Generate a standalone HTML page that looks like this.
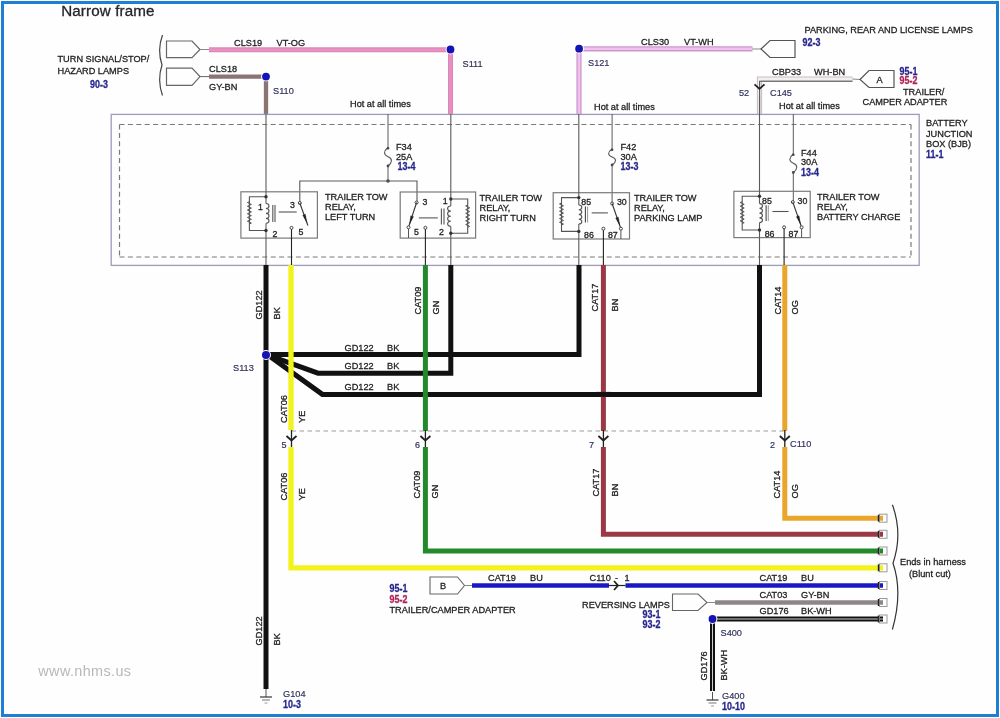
<!DOCTYPE html>
<html><head><meta charset="utf-8"><style>
html,body{margin:0;padding:0;background:#fff;}
svg{display:block;filter:blur(0.35px);}
text{font-family:"Liberation Sans", sans-serif;}
text.s{}
</style></head><body>
<svg width="1000" height="718" viewBox="0 0 1000 718">
<rect x="0" y="0" width="1000" height="718" fill="#fefefe"/>
<rect x="2.5" y="2.5" width="995" height="713" fill="none" stroke="#1f7fd2" stroke-width="3"/>
<text x="61.2" y="15.6" font-size="15.2" fill="#262626" font-weight="normal" text-anchor="start" letter-spacing="0.12" stroke="#262626" stroke-width="0.3">Narrow frame</text>
<text x="0" y="0" font-size="9.8" fill="#1e1e1e" font-weight="normal" text-anchor="start" transform="translate(57.5 62.4) scale(0.9388 1)"  stroke="#1e1e1e" stroke-width="0.3">TURN SIGNAL/STOP/</text>
<text x="0" y="0" font-size="9.8" fill="#1e1e1e" font-weight="normal" text-anchor="start" transform="translate(57.5 74.4) scale(0.9388 1)"  stroke="#1e1e1e" stroke-width="0.3">HAZARD LAMPS</text>
<text x="0" y="0" font-size="10.4" fill="#26268e" font-weight="bold" text-anchor="start" transform="translate(90 88.3) scale(0.86 1)"  stroke="#26268e" stroke-width="0.3">90-3</text>
<path d="M162.5,35 Q157,50 162,65 Q157,80 162.5,95.5" stroke="#444" stroke-width="1.2" fill="none" />
<path d="M166.5,41 H192 L200,49.5 L192,57.6 H166.5 Z" stroke="#666" stroke-width="1.2" fill="none" />
<path d="M166.5,68.1 H192 L200,76.6 L192,85.3 H166.5 Z" stroke="#666" stroke-width="1.2" fill="none" />
<line x1="200" y1="49.5" x2="209" y2="49.5" stroke="#888" stroke-width="1" />
<line x1="200" y1="76.6" x2="209" y2="76.6" stroke="#666" stroke-width="1" />
<path d="M209,49.7 H450.5 V114" stroke="#dc88b4" stroke-width="5" fill="none" />
<path d="M209,49.7 H450.5 V114" stroke="#ea90c4" stroke-width="2.6" fill="none" />
<circle cx="450.5" cy="49.5" r="4.9" fill="#fff"/>
<circle cx="450.5" cy="49.5" r="3.9" fill="#1414b4"/>
<path d="M209,76.6 H266 V114" stroke="#8c7474" stroke-width="4.3" fill="none" />
<circle cx="266" cy="76.6" r="4.9" fill="#fff"/>
<circle cx="266" cy="76.6" r="3.9" fill="#1414b4"/>
<text x="0" y="0" font-size="9.8" fill="#1e1e1e" font-weight="normal" text-anchor="start" transform="translate(234 46) scale(0.9388 1)"  stroke="#1e1e1e" stroke-width="0.3">CLS19</text>
<text x="0" y="0" font-size="9.8" fill="#1e1e1e" font-weight="normal" text-anchor="start" transform="translate(276.5 46) scale(0.9388 1)"  stroke="#1e1e1e" stroke-width="0.3">VT-OG</text>
<text x="0" y="0" font-size="9.8" fill="#1e1e1e" font-weight="normal" text-anchor="start" transform="translate(209 72.4) scale(0.9388 1)"  stroke="#1e1e1e" stroke-width="0.3">CLS18</text>
<text x="0" y="0" font-size="9.8" fill="#1e1e1e" font-weight="normal" text-anchor="start" transform="translate(209 90) scale(0.9388 1)"  stroke="#1e1e1e" stroke-width="0.3">GY-BN</text>
<text x="0" y="0" font-size="9.8" fill="#30305e" font-weight="normal" text-anchor="start" transform="translate(273 94) scale(0.9388 1)"  stroke="#30305e" stroke-width="0.18">S110</text>
<text x="0" y="0" font-size="9.8" fill="#30305e" font-weight="normal" text-anchor="start" transform="translate(462.5 67) scale(0.9388 1)"  stroke="#30305e" stroke-width="0.18">S111</text>
<text x="0" y="0" font-size="9.8" fill="#1e1e1e" font-weight="normal" text-anchor="start" transform="translate(804.5 33) scale(0.9388 1)"  stroke="#1e1e1e" stroke-width="0.3">PARKING, REAR AND LICENSE LAMPS</text>
<text x="0" y="0" font-size="10.4" fill="#26268e" font-weight="bold" text-anchor="start" transform="translate(802.5 46) scale(0.86 1)"  stroke="#26268e" stroke-width="0.3">92-3</text>
<path d="M579,114 V48.8 H752.5" stroke="#cc98cc" stroke-width="5.2" fill="none" />
<path d="M579,114 V48.8 H752.5" stroke="#f0c0ee" stroke-width="2.6" fill="none" />
<circle cx="579.1" cy="48.7" r="4.9" fill="#fff"/>
<circle cx="579.1" cy="48.7" r="3.9" fill="#1414b4"/>
<line x1="752.5" y1="49" x2="761" y2="49" stroke="#888" stroke-width="1" />
<path d="M761,49 L770,40.5 H795 V57.5 H770 Z" stroke="#555" stroke-width="1.2" fill="none" />
<text x="0" y="0" font-size="9.8" fill="#1e1e1e" font-weight="normal" text-anchor="start" transform="translate(641 45) scale(0.9388 1)"  stroke="#1e1e1e" stroke-width="0.3">CLS30</text>
<text x="0" y="0" font-size="9.8" fill="#1e1e1e" font-weight="normal" text-anchor="start" transform="translate(684 45) scale(0.9388 1)"  stroke="#1e1e1e" stroke-width="0.3">VT-WH</text>
<text x="0" y="0" font-size="9.8" fill="#30305e" font-weight="normal" text-anchor="start" transform="translate(588 66) scale(0.9388 1)"  stroke="#30305e" stroke-width="0.18">S121</text>
<path d="M852.5,79 H759.5 V114" stroke="#c4bcbc" stroke-width="5.2" fill="none" />
<path d="M852.5,79 H759.5 V114" stroke="#f4efef" stroke-width="3.2" fill="none" />
<path d="M852.5,81.3 H759.6 V114" stroke="#555" stroke-width="1.1" fill="none" />
<line x1="852.5" y1="79" x2="860" y2="79.5" stroke="#888" stroke-width="1" />
<path d="M860,79.5 L869,70.5 H894 V87.5 H869 Z" stroke="#555" stroke-width="1.2" fill="none" />
<text x="0" y="0" font-size="9.8" fill="#1e1e1e" font-weight="normal" text-anchor="middle" transform="translate(879.5 83) scale(0.9388 1)"  stroke="#1e1e1e" stroke-width="0.3">A</text>
<text x="0" y="0" font-size="9.8" fill="#1e1e1e" font-weight="normal" text-anchor="start" transform="translate(772 75) scale(0.9388 1)"  stroke="#1e1e1e" stroke-width="0.3">CBP33</text>
<text x="0" y="0" font-size="9.8" fill="#1e1e1e" font-weight="normal" text-anchor="start" transform="translate(814 75) scale(0.9388 1)"  stroke="#1e1e1e" stroke-width="0.3">WH-BN</text>
<text x="0" y="0" font-size="10.4" fill="#26268e" font-weight="bold" text-anchor="start" transform="translate(899.5 74.5) scale(0.86 1)"  stroke="#26268e" stroke-width="0.3">95-1</text>
<text x="0" y="0" font-size="10.4" fill="#b02458" font-weight="bold" text-anchor="start" transform="translate(899.5 84) scale(0.86 1)"  stroke="#b02458" stroke-width="0.3">95-2</text>
<text x="0" y="0" font-size="9.8" fill="#1e1e1e" font-weight="normal" text-anchor="start" transform="translate(903 94.5) scale(0.9388 1)"  stroke="#1e1e1e" stroke-width="0.3">TRAILER/</text>
<text x="0" y="0" font-size="9.8" fill="#1e1e1e" font-weight="normal" text-anchor="start" transform="translate(862.5 104.5) scale(0.9388 1)"  stroke="#1e1e1e" stroke-width="0.3">CAMPER ADAPTER</text>
<path d="M754.5,84.3 L759.5,88.8 L764.5,84.3" stroke="#222" stroke-width="1.8" fill="none" />
<text x="0" y="0" font-size="9.8" fill="#30305e" font-weight="normal" text-anchor="start" transform="translate(739 96) scale(0.9388 1)"  stroke="#30305e" stroke-width="0.18">52</text>
<text x="0" y="0" font-size="9.8" fill="#30305e" font-weight="normal" text-anchor="start" transform="translate(770 96) scale(0.9388 1)"  stroke="#30305e" stroke-width="0.18">C145</text>
<rect x="111.2" y="114.4" width="808" height="151" fill="none" stroke="#9c9cbc" stroke-width="1.3"/>
<line x1="119.5" y1="124.5" x2="911" y2="124.5" stroke="#7a7a7a" stroke-width="1.2" stroke-dasharray="5,3.4"/>
<line x1="119.5" y1="124.5" x2="119.5" y2="257" stroke="#7a7a7a" stroke-width="1.2" stroke-dasharray="5,3.4"/>
<line x1="119.5" y1="257" x2="911" y2="257" stroke="#7a7a7a" stroke-width="1.2" stroke-dasharray="5,3.4"/>
<line x1="911" y1="124.5" x2="911" y2="257" stroke="#7a7a7a" stroke-width="1.2" stroke-dasharray="5,3.4"/>
<text x="0" y="0" font-size="9.8" fill="#1e1e1e" font-weight="normal" text-anchor="start" transform="translate(926 126) scale(0.9388 1)"  stroke="#1e1e1e" stroke-width="0.3">BATTERY</text>
<text x="0" y="0" font-size="9.8" fill="#1e1e1e" font-weight="normal" text-anchor="start" transform="translate(926 136.5) scale(0.9388 1)"  stroke="#1e1e1e" stroke-width="0.3">JUNCTION</text>
<text x="0" y="0" font-size="9.8" fill="#1e1e1e" font-weight="normal" text-anchor="start" transform="translate(926 147) scale(0.9388 1)"  stroke="#1e1e1e" stroke-width="0.3">BOX (BJB)</text>
<text x="0" y="0" font-size="10.4" fill="#26268e" font-weight="bold" text-anchor="start" transform="translate(926 157.5) scale(0.86 1)"  stroke="#26268e" stroke-width="0.3">11-1</text>
<text x="0" y="0" font-size="9.8" fill="#1e1e1e" font-weight="normal" text-anchor="start" transform="translate(350 106.8) scale(0.9388 1)"  stroke="#1e1e1e" stroke-width="0.3">Hot at all times</text>
<line x1="388" y1="114" x2="388" y2="147.5" stroke="#5a5a5a" stroke-width="1" />
<path d="M388,147.5 C383.4,151.2 383.4,154.9 388,156.75 C392.6,158.6 392.6,162.3 388,166" stroke="#5a5a5a" stroke-width="1.1" fill="none" />
<circle cx="388" cy="166" r="1.4" fill="#444"/>
<circle cx="388" cy="148.3" r="1.3" fill="#444"/>
<line x1="388" y1="166" x2="388" y2="181" stroke="#5a5a5a" stroke-width="1" />
<circle cx="388" cy="181" r="1.8" fill="#444"/>
<path d="M299.8,203 V181 H417 V202.5" stroke="#5a5a5a" stroke-width="1.1" fill="none" />
<text x="0" y="0" font-size="9.8" fill="#1e1e1e" font-weight="normal" text-anchor="start" transform="translate(396 149.5) scale(0.9388 1)"  stroke="#1e1e1e" stroke-width="0.3">F34</text>
<text x="0" y="0" font-size="9.8" fill="#1e1e1e" font-weight="normal" text-anchor="start" transform="translate(396 159.5) scale(0.9388 1)"  stroke="#1e1e1e" stroke-width="0.3">25A</text>
<text x="0" y="0" font-size="10.4" fill="#26268e" font-weight="bold" text-anchor="start" transform="translate(397.5 169.6) scale(0.86 1)"  stroke="#26268e" stroke-width="0.3">13-4</text>
<text x="0" y="0" font-size="9.8" fill="#1e1e1e" font-weight="normal" text-anchor="start" transform="translate(594 110) scale(0.9388 1)"  stroke="#1e1e1e" stroke-width="0.3">Hot at all times</text>
<line x1="612.1" y1="114" x2="612.1" y2="149" stroke="#5a5a5a" stroke-width="1" />
<path d="M612.1,149 C607.5,152.2 607.5,155.4 612.1,157.0 C616.7,158.6 616.7,161.8 612.1,165" stroke="#5a5a5a" stroke-width="1.1" fill="none" />
<circle cx="612.1" cy="165" r="1.4" fill="#444"/>
<circle cx="612.1" cy="149.8" r="1.3" fill="#444"/>
<line x1="612.1" y1="165" x2="612.1" y2="203.5" stroke="#5a5a5a" stroke-width="1" />
<text x="0" y="0" font-size="9.8" fill="#1e1e1e" font-weight="normal" text-anchor="start" transform="translate(620.5 149.5) scale(0.9388 1)"  stroke="#1e1e1e" stroke-width="0.3">F42</text>
<text x="0" y="0" font-size="9.8" fill="#1e1e1e" font-weight="normal" text-anchor="start" transform="translate(620.5 159.5) scale(0.9388 1)"  stroke="#1e1e1e" stroke-width="0.3">30A</text>
<text x="0" y="0" font-size="10.4" fill="#26268e" font-weight="bold" text-anchor="start" transform="translate(620.5 169.5) scale(0.86 1)"  stroke="#26268e" stroke-width="0.3">13-3</text>
<text x="0" y="0" font-size="9.8" fill="#1e1e1e" font-weight="normal" text-anchor="start" transform="translate(779 109) scale(0.9388 1)"  stroke="#1e1e1e" stroke-width="0.3">Hot at all times</text>
<line x1="793.3" y1="114" x2="793.3" y2="154" stroke="#5a5a5a" stroke-width="1" />
<path d="M793.3,154 C788.6999999999999,157.7 788.6999999999999,161.4 793.3,163.25 C797.9,165.1 797.9,168.8 793.3,172.5" stroke="#5a5a5a" stroke-width="1.1" fill="none" />
<circle cx="793.3" cy="172.5" r="1.4" fill="#444"/>
<circle cx="793.3" cy="154.8" r="1.3" fill="#444"/>
<line x1="793.3" y1="172.5" x2="793.3" y2="202" stroke="#5a5a5a" stroke-width="1" />
<text x="0" y="0" font-size="9.8" fill="#1e1e1e" font-weight="normal" text-anchor="start" transform="translate(801 155.5) scale(0.9388 1)"  stroke="#1e1e1e" stroke-width="0.3">F44</text>
<text x="0" y="0" font-size="9.8" fill="#1e1e1e" font-weight="normal" text-anchor="start" transform="translate(801 165) scale(0.9388 1)"  stroke="#1e1e1e" stroke-width="0.3">30A</text>
<text x="0" y="0" font-size="10.4" fill="#26268e" font-weight="bold" text-anchor="start" transform="translate(801 175.5) scale(0.86 1)"  stroke="#26268e" stroke-width="0.3">13-4</text>
<rect x="240.9" y="191.8" width="76.5" height="46.3" fill="none" stroke="#7a7a7a" stroke-width="1.2"/>
<line x1="266" y1="114" x2="266" y2="203.5" stroke="#5a5a5a" stroke-width="1.1" />
<line x1="266" y1="223.3" x2="266" y2="265" stroke="#5a5a5a" stroke-width="1.1" />
<path d="M266,196.7 H249.4 V230.5 H266" stroke="#555" stroke-width="1.1" fill="none" />
<path d="M249.4,201.6 L247.40,202.53 L251.40,204.40 L247.40,206.27 L251.40,208.13 L247.40,210.00 L251.40,211.87 L247.40,213.73 L251.40,215.60 L247.40,217.47 L251.40,219.33 L247.40,221.20 L251.40,223.07 L249.4,224" stroke="#555" stroke-width="1.0" fill="none" stroke-linejoin="round"/>
<path d="M266,203.5 A3.2,2.48 0 0 1 266,208.45 A3.2,2.48 0 0 1 266,213.40 A3.2,2.48 0 0 1 266,218.35 A3.2,2.48 0 0 1 266,223.30" stroke="#555" stroke-width="1.1" fill="none" />
<line x1="266" y1="196.7" x2="266" y2="203.5" stroke="#fff" stroke-width="0" />
<circle cx="266" cy="196.7" r="1.7" fill="#333"/>
<circle cx="266" cy="230.5" r="1.7" fill="#333"/>
<line x1="272.8" y1="205" x2="272.8" y2="222" stroke="#555" stroke-width="1.1" />
<line x1="275" y1="205" x2="275" y2="222" stroke="#555" stroke-width="1.1" />
<line x1="278.7" y1="212" x2="296.7" y2="212" stroke="#555" stroke-width="1.1" />
<circle cx="299.8" cy="203" r="1.5" fill="#fff" stroke="#444" stroke-width="1"/>
<line x1="299.8" y1="203" x2="307.9" y2="225.5" stroke="#333" stroke-width="1.1" />
<path d="M306.77,222.35 L302.74,215.30 L305.37,214.35 Z" fill="#222" stroke="#222" stroke-width="0.4"/>
<circle cx="291.5" cy="227.8" r="1.5" fill="#fff" stroke="#444" stroke-width="1"/>
<line x1="291.5" y1="229.3" x2="291.5" y2="265" stroke="#222" stroke-width="1.1" />
<text x="258" y="209.8" font-size="8.8" fill="#1e1e1e" font-weight="normal" text-anchor="start"  stroke="#1e1e1e" stroke-width="0.3">1</text>
<text x="272.4" y="237.2" font-size="8.8" fill="#1e1e1e" font-weight="normal" text-anchor="start"  stroke="#1e1e1e" stroke-width="0.3">2</text>
<text x="290" y="207.5" font-size="8.8" fill="#1e1e1e" font-weight="normal" text-anchor="start"  stroke="#1e1e1e" stroke-width="0.3">3</text>
<text x="298.5" y="235.4" font-size="8.8" fill="#1e1e1e" font-weight="normal" text-anchor="start"  stroke="#1e1e1e" stroke-width="0.3">5</text>
<text x="0" y="0" font-size="9.8" fill="#1e1e1e" font-weight="normal" text-anchor="start" transform="translate(325 200) scale(0.9388 1)"  stroke="#1e1e1e" stroke-width="0.3">TRAILER TOW</text>
<text x="0" y="0" font-size="9.8" fill="#1e1e1e" font-weight="normal" text-anchor="start" transform="translate(325 210) scale(0.9388 1)"  stroke="#1e1e1e" stroke-width="0.3">RELAY,</text>
<text x="0" y="0" font-size="9.8" fill="#1e1e1e" font-weight="normal" text-anchor="start" transform="translate(325 220) scale(0.9388 1)"  stroke="#1e1e1e" stroke-width="0.3">LEFT TURN</text>
<rect x="400.2" y="192" width="75.4" height="46.1" fill="none" stroke="#7a7a7a" stroke-width="1.2"/>
<line x1="450.8" y1="114" x2="450.8" y2="206" stroke="#5a5a5a" stroke-width="1.1" />
<line x1="450.8" y1="226.4" x2="450.8" y2="265" stroke="#5a5a5a" stroke-width="1.1" />
<path d="M450.8,199 H467.7 V233.2 H450.8" stroke="#555" stroke-width="1.1" fill="none" />
<path d="M467.7,205 L465.70,205.93 L469.70,207.79 L465.70,209.65 L469.70,211.50 L465.70,213.36 L469.70,215.22 L465.70,217.08 L469.70,218.94 L465.70,220.80 L469.70,222.65 L465.70,224.51 L469.70,226.37 L467.7,227.3" stroke="#555" stroke-width="1.0" fill="none" stroke-linejoin="round"/>
<path d="M450.8,206 A3.2,2.55 0 0 0 450.8,211.10 A3.2,2.55 0 0 0 450.8,216.20 A3.2,2.55 0 0 0 450.8,221.30 A3.2,2.55 0 0 0 450.8,226.40" stroke="#555" stroke-width="1.1" fill="none" />
<circle cx="450.8" cy="199" r="1.7" fill="#333"/>
<circle cx="450.8" cy="233.2" r="1.7" fill="#333"/>
<line x1="441.4" y1="208.4" x2="441.4" y2="224.6" stroke="#555" stroke-width="1.1" />
<line x1="444" y1="208.4" x2="444" y2="224.6" stroke="#555" stroke-width="1.1" />
<line x1="418.9" y1="217.9" x2="437.8" y2="217.9" stroke="#555" stroke-width="1.1" />
<circle cx="416.6" cy="202.5" r="1.5" fill="#fff" stroke="#444" stroke-width="1"/>
<line x1="416.6" y1="202.5" x2="408.5" y2="227.3" stroke="#333" stroke-width="1.1" />
<path d="M409.63,223.83 L410.79,215.79 L413.45,216.66 Z" fill="#222" stroke="#222" stroke-width="0.4"/>
<circle cx="408.5" cy="227.3" r="1.5" fill="#fff" stroke="#444" stroke-width="1"/>
<line x1="408.5" y1="228.8" x2="408.5" y2="238" stroke="#555" stroke-width="1" />
<circle cx="425.4" cy="227.8" r="1.5" fill="#fff" stroke="#444" stroke-width="1"/>
<line x1="425.4" y1="229.3" x2="425.4" y2="265" stroke="#222" stroke-width="1.1" />
<text x="442.7" y="203.5" font-size="8.8" fill="#1e1e1e" font-weight="normal" text-anchor="start"  stroke="#1e1e1e" stroke-width="0.3">1</text>
<text x="439.1" y="235.4" font-size="8.8" fill="#1e1e1e" font-weight="normal" text-anchor="start"  stroke="#1e1e1e" stroke-width="0.3">2</text>
<text x="422.5" y="205.3" font-size="8.8" fill="#1e1e1e" font-weight="normal" text-anchor="start"  stroke="#1e1e1e" stroke-width="0.3">3</text>
<text x="413.9" y="235.4" font-size="8.8" fill="#1e1e1e" font-weight="normal" text-anchor="start"  stroke="#1e1e1e" stroke-width="0.3">5</text>
<text x="0" y="0" font-size="9.8" fill="#1e1e1e" font-weight="normal" text-anchor="start" transform="translate(479.5 200.5) scale(0.9388 1)"  stroke="#1e1e1e" stroke-width="0.3">TRAILER TOW</text>
<text x="0" y="0" font-size="9.8" fill="#1e1e1e" font-weight="normal" text-anchor="start" transform="translate(479.5 210.5) scale(0.9388 1)"  stroke="#1e1e1e" stroke-width="0.3">RELAY,</text>
<text x="0" y="0" font-size="9.8" fill="#1e1e1e" font-weight="normal" text-anchor="start" transform="translate(479.5 220.5) scale(0.9388 1)"  stroke="#1e1e1e" stroke-width="0.3">RIGHT TURN</text>
<rect x="553.2" y="192.7" width="76.3" height="46.3" fill="none" stroke="#7a7a7a" stroke-width="1.2"/>
<line x1="578.8" y1="114" x2="578.8" y2="205" stroke="#5a5a5a" stroke-width="1.1" />
<line x1="578.8" y1="224" x2="578.8" y2="265" stroke="#5a5a5a" stroke-width="1.1" />
<path d="M578.8,197.6 H561.5 V231.4 H578.8" stroke="#555" stroke-width="1.1" fill="none" />
<path d="M561.5,203 L559.50,203.92 L563.50,205.75 L559.50,207.58 L563.50,209.42 L559.50,211.25 L563.50,213.08 L559.50,214.92 L563.50,216.75 L559.50,218.58 L563.50,220.42 L559.50,222.25 L563.50,224.08 L561.5,225" stroke="#555" stroke-width="1.0" fill="none" stroke-linejoin="round"/>
<path d="M578.8,205 A3.2,2.38 0 0 1 578.8,209.75 A3.2,2.38 0 0 1 578.8,214.50 A3.2,2.38 0 0 1 578.8,219.25 A3.2,2.38 0 0 1 578.8,224.00" stroke="#555" stroke-width="1.1" fill="none" />
<circle cx="578.8" cy="197.6" r="1.7" fill="#333"/>
<circle cx="578.8" cy="231.4" r="1.7" fill="#333"/>
<line x1="585.4" y1="206.6" x2="585.4" y2="222.4" stroke="#444" stroke-width="1.1" />
<line x1="587.6" y1="206.6" x2="587.6" y2="222.4" stroke="#999" stroke-width="1.0" />
<line x1="591.7" y1="212.9" x2="607.9" y2="212.9" stroke="#555" stroke-width="1.1" />
<circle cx="612.1" cy="203.5" r="1.5" fill="#fff" stroke="#444" stroke-width="1"/>
<line x1="612.1" y1="203.5" x2="620.9" y2="228.7" stroke="#333" stroke-width="1.1" />
<path d="M619.67,225.17 L615.71,218.08 L618.35,217.16 Z" fill="#222" stroke="#222" stroke-width="0.4"/>
<circle cx="620.9" cy="228.7" r="1.5" fill="#fff" stroke="#444" stroke-width="1"/>
<line x1="620.9" y1="230.2" x2="620.9" y2="239" stroke="#555" stroke-width="1" />
<circle cx="603.4" cy="228.7" r="1.5" fill="#fff" stroke="#444" stroke-width="1"/>
<line x1="603.4" y1="230.2" x2="603.4" y2="265" stroke="#222" stroke-width="1.1" />
<text x="581.3" y="205.3" font-size="8.8" fill="#1e1e1e" font-weight="normal" text-anchor="start"  stroke="#1e1e1e" stroke-width="0.3">85</text>
<text x="616.9" y="205.3" font-size="8.8" fill="#1e1e1e" font-weight="normal" text-anchor="start"  stroke="#1e1e1e" stroke-width="0.3">30</text>
<text x="584" y="238.4" font-size="8.8" fill="#1e1e1e" font-weight="normal" text-anchor="start"  stroke="#1e1e1e" stroke-width="0.3">86</text>
<text x="607.9" y="238.4" font-size="8.8" fill="#1e1e1e" font-weight="normal" text-anchor="start"  stroke="#1e1e1e" stroke-width="0.3">87</text>
<text x="0" y="0" font-size="9.8" fill="#1e1e1e" font-weight="normal" text-anchor="start" transform="translate(634 201) scale(0.9388 1)"  stroke="#1e1e1e" stroke-width="0.3">TRAILER TOW</text>
<text x="0" y="0" font-size="9.8" fill="#1e1e1e" font-weight="normal" text-anchor="start" transform="translate(634 211) scale(0.9388 1)"  stroke="#1e1e1e" stroke-width="0.3">RELAY,</text>
<text x="0" y="0" font-size="9.8" fill="#1e1e1e" font-weight="normal" text-anchor="start" transform="translate(634 221) scale(0.9388 1)"  stroke="#1e1e1e" stroke-width="0.3">PARKING LAMP</text>
<rect x="733.9000000000001" y="191.29999999999998" width="76.3" height="46.3" fill="none" stroke="#7a7a7a" stroke-width="1.2"/>
<line x1="759.5" y1="97" x2="759.5" y2="203.6" stroke="#5a5a5a" stroke-width="1.1" />
<line x1="759.5" y1="222.6" x2="759.5" y2="265" stroke="#5a5a5a" stroke-width="1.1" />
<path d="M759.5,196.2 H742.2 V230.0 H759.5" stroke="#555" stroke-width="1.1" fill="none" />
<path d="M742.2,201.6 L740.20,202.52 L744.20,204.35 L740.20,206.18 L744.20,208.02 L740.20,209.85 L744.20,211.68 L740.20,213.52 L744.20,215.35 L740.20,217.18 L744.20,219.02 L740.20,220.85 L744.20,222.68 L742.2,223.6" stroke="#555" stroke-width="1.0" fill="none" stroke-linejoin="round"/>
<path d="M759.5,203.6 A3.2,2.38 0 0 1 759.5,208.35 A3.2,2.38 0 0 1 759.5,213.10 A3.2,2.38 0 0 1 759.5,217.85 A3.2,2.38 0 0 1 759.5,222.60" stroke="#555" stroke-width="1.1" fill="none" />
<circle cx="759.5" cy="196.2" r="1.7" fill="#333"/>
<circle cx="759.5" cy="230.0" r="1.7" fill="#333"/>
<line x1="766.0999999999999" y1="205.2" x2="766.0999999999999" y2="221.0" stroke="#444" stroke-width="1.1" />
<line x1="768.3" y1="205.2" x2="768.3" y2="221.0" stroke="#999" stroke-width="1.0" />
<line x1="772.4000000000001" y1="211.5" x2="788.5999999999999" y2="211.5" stroke="#555" stroke-width="1.1" />
<circle cx="792.8" cy="202.1" r="1.5" fill="#fff" stroke="#444" stroke-width="1"/>
<line x1="792.8" y1="202.1" x2="801.5999999999999" y2="227.29999999999998" stroke="#333" stroke-width="1.1" />
<path d="M800.37,223.77 L796.41,216.68 L799.05,215.76 Z" fill="#222" stroke="#222" stroke-width="0.4"/>
<circle cx="801.5999999999999" cy="227.29999999999998" r="1.5" fill="#fff" stroke="#444" stroke-width="1"/>
<line x1="801.5999999999999" y1="228.79999999999998" x2="801.5999999999999" y2="237.6" stroke="#555" stroke-width="1" />
<circle cx="784.0999999999999" cy="227.29999999999998" r="1.5" fill="#fff" stroke="#444" stroke-width="1"/>
<line x1="784.0999999999999" y1="228.79999999999998" x2="784.0999999999999" y2="265" stroke="#222" stroke-width="1.1" />
<text x="762.0" y="203.9" font-size="8.8" fill="#1e1e1e" font-weight="normal" text-anchor="start"  stroke="#1e1e1e" stroke-width="0.3">85</text>
<text x="797.5999999999999" y="203.9" font-size="8.8" fill="#1e1e1e" font-weight="normal" text-anchor="start"  stroke="#1e1e1e" stroke-width="0.3">30</text>
<text x="764.7" y="237.0" font-size="8.8" fill="#1e1e1e" font-weight="normal" text-anchor="start"  stroke="#1e1e1e" stroke-width="0.3">86</text>
<text x="788.5999999999999" y="237.0" font-size="8.8" fill="#1e1e1e" font-weight="normal" text-anchor="start"  stroke="#1e1e1e" stroke-width="0.3">87</text>
<text x="0" y="0" font-size="9.8" fill="#1e1e1e" font-weight="normal" text-anchor="start" transform="translate(817 199.6) scale(0.9388 1)"  stroke="#1e1e1e" stroke-width="0.3">TRAILER TOW</text>
<text x="0" y="0" font-size="9.8" fill="#1e1e1e" font-weight="normal" text-anchor="start" transform="translate(817 209.6) scale(0.9388 1)"  stroke="#1e1e1e" stroke-width="0.3">RELAY,</text>
<text x="0" y="0" font-size="9.8" fill="#1e1e1e" font-weight="normal" text-anchor="start" transform="translate(817 219.6) scale(0.9388 1)"  stroke="#1e1e1e" stroke-width="0.3">BATTERY CHARGE</text>
<line x1="266" y1="265" x2="266" y2="689" stroke="#111111" stroke-width="5" />
<path d="M579,265 V354.5 H266" stroke="#111111" stroke-width="5" fill="none" />
<path d="M450.8,265 V373.2 H318 L270,355.8" stroke="#111111" stroke-width="5" fill="none" />
<path d="M759.5,265 V394.4 H322.4 L270,356.5" stroke="#111111" stroke-width="5" fill="none" />
<circle cx="266" cy="355" r="5.0" fill="#fff"/>
<circle cx="266" cy="355" r="4.0" fill="#1414b4"/>
<path d="M291,265 V430" stroke="#f2f21c" stroke-width="5.3" fill="none" />
<path d="M291,447 V567.8 H883" stroke="#f2f21c" stroke-width="5.3" fill="none" />
<path d="M425.4,265 V431" stroke="#228a2a" stroke-width="5" fill="none" />
<path d="M425.4,447 V551 H883" stroke="#228a2a" stroke-width="5" fill="none" />
<path d="M603.4,265 V431" stroke="#9c3846" stroke-width="5" fill="none" />
<path d="M603.4,447 V534.3 H883" stroke="#9c3846" stroke-width="5" fill="none" />
<path d="M784.8,265 V431" stroke="#eaa62a" stroke-width="5" fill="none" />
<path d="M784.8,447 V518.2 H883" stroke="#eaa62a" stroke-width="5" fill="none" />
<line x1="596" y1="394.4" x2="611" y2="394.4" stroke="#111111" stroke-width="5" />
<line x1="291.5" y1="431" x2="785" y2="431" stroke="#999" stroke-width="1.1" stroke-dasharray="4.5,3.5"/>
<line x1="291.5" y1="430" x2="291.5" y2="447" stroke="#222" stroke-width="1.3" />
<path d="M286.5,436.0 L291.5,440.5 L296.5,436.0" stroke="#222" stroke-width="1.8" fill="none" />
<line x1="425.4" y1="430" x2="425.4" y2="447" stroke="#222" stroke-width="1.3" />
<path d="M420.4,436.0 L425.4,440.5 L430.4,436.0" stroke="#222" stroke-width="1.8" fill="none" />
<line x1="603.4" y1="430" x2="603.4" y2="447" stroke="#222" stroke-width="1.3" />
<path d="M598.4,436.0 L603.4,440.5 L608.4,436.0" stroke="#222" stroke-width="1.8" fill="none" />
<line x1="784.8" y1="430" x2="784.8" y2="447" stroke="#222" stroke-width="1.3" />
<path d="M779.8,436.0 L784.8,440.5 L789.8,436.0" stroke="#222" stroke-width="1.8" fill="none" />
<text x="281.5" y="447.5" font-size="9" fill="#30305e" font-weight="normal" text-anchor="start"  stroke="#30305e" stroke-width="0.18">5</text>
<text x="415" y="447.5" font-size="9" fill="#30305e" font-weight="normal" text-anchor="start"  stroke="#30305e" stroke-width="0.18">6</text>
<text x="589" y="447.5" font-size="9" fill="#30305e" font-weight="normal" text-anchor="start"  stroke="#30305e" stroke-width="0.18">7</text>
<text x="770" y="447.5" font-size="9" fill="#30305e" font-weight="normal" text-anchor="start"  stroke="#30305e" stroke-width="0.18">2</text>
<text x="0" y="0" font-size="9.8" fill="#30305e" font-weight="normal" text-anchor="start" transform="translate(790 447) scale(0.9388 1)"  stroke="#30305e" stroke-width="0.18">C110</text>
<text x="0" y="0" font-size="9.8" fill="#1e1e1e" font-weight="normal" text-anchor="start" transform="translate(262.4 319.5) rotate(-90) scale(0.9388 1)"  stroke="#1e1e1e" stroke-width="0.3">GD122</text>
<text x="0" y="0" font-size="9.8" fill="#1e1e1e" font-weight="normal" text-anchor="start" transform="translate(280.4 319.5) rotate(-90) scale(0.9388 1)"  stroke="#1e1e1e" stroke-width="0.3">BK</text>
<text x="0" y="0" font-size="9.8" fill="#1e1e1e" font-weight="normal" text-anchor="start" transform="translate(420.9 314.5) rotate(-90) scale(0.9388 1)"  stroke="#1e1e1e" stroke-width="0.3">CAT09</text>
<text x="0" y="0" font-size="9.8" fill="#1e1e1e" font-weight="normal" text-anchor="start" transform="translate(438.9 314.5) rotate(-90) scale(0.9388 1)"  stroke="#1e1e1e" stroke-width="0.3">GN</text>
<text x="0" y="0" font-size="9.8" fill="#1e1e1e" font-weight="normal" text-anchor="start" transform="translate(598.4 311.5) rotate(-90) scale(0.9388 1)"  stroke="#1e1e1e" stroke-width="0.3">CAT17</text>
<text x="0" y="0" font-size="9.8" fill="#1e1e1e" font-weight="normal" text-anchor="start" transform="translate(617.9 311.5) rotate(-90) scale(0.9388 1)"  stroke="#1e1e1e" stroke-width="0.3">BN</text>
<text x="0" y="0" font-size="9.8" fill="#1e1e1e" font-weight="normal" text-anchor="start" transform="translate(780.9 314.5) rotate(-90) scale(0.9388 1)"  stroke="#1e1e1e" stroke-width="0.3">CAT14</text>
<text x="0" y="0" font-size="9.8" fill="#1e1e1e" font-weight="normal" text-anchor="start" transform="translate(798.4 314.5) rotate(-90) scale(0.9388 1)"  stroke="#1e1e1e" stroke-width="0.3">OG</text>
<text x="0" y="0" font-size="9.8" fill="#1e1e1e" font-weight="normal" text-anchor="start" transform="translate(287.4 423) rotate(-90) scale(0.9388 1)"  stroke="#1e1e1e" stroke-width="0.3">CAT06</text>
<text x="0" y="0" font-size="9.8" fill="#1e1e1e" font-weight="normal" text-anchor="start" transform="translate(305.4 423) rotate(-90) scale(0.9388 1)"  stroke="#1e1e1e" stroke-width="0.3">YE</text>
<text x="0" y="0" font-size="9.8" fill="#1e1e1e" font-weight="normal" text-anchor="start" transform="translate(287.4 500.5) rotate(-90) scale(0.9388 1)"  stroke="#1e1e1e" stroke-width="0.3">CAT06</text>
<text x="0" y="0" font-size="9.8" fill="#1e1e1e" font-weight="normal" text-anchor="start" transform="translate(305.4 500.5) rotate(-90) scale(0.9388 1)"  stroke="#1e1e1e" stroke-width="0.3">YE</text>
<text x="0" y="0" font-size="9.8" fill="#1e1e1e" font-weight="normal" text-anchor="start" transform="translate(420.4 498.5) rotate(-90) scale(0.9388 1)"  stroke="#1e1e1e" stroke-width="0.3">CAT09</text>
<text x="0" y="0" font-size="9.8" fill="#1e1e1e" font-weight="normal" text-anchor="start" transform="translate(438.4 498.5) rotate(-90) scale(0.9388 1)"  stroke="#1e1e1e" stroke-width="0.3">GN</text>
<text x="0" y="0" font-size="9.8" fill="#1e1e1e" font-weight="normal" text-anchor="start" transform="translate(599.4 496.5) rotate(-90) scale(0.9388 1)"  stroke="#1e1e1e" stroke-width="0.3">CAT17</text>
<text x="0" y="0" font-size="9.8" fill="#1e1e1e" font-weight="normal" text-anchor="start" transform="translate(617.9 496.5) rotate(-90) scale(0.9388 1)"  stroke="#1e1e1e" stroke-width="0.3">BN</text>
<text x="0" y="0" font-size="9.8" fill="#1e1e1e" font-weight="normal" text-anchor="start" transform="translate(780.4 498.5) rotate(-90) scale(0.9388 1)"  stroke="#1e1e1e" stroke-width="0.3">CAT14</text>
<text x="0" y="0" font-size="9.8" fill="#1e1e1e" font-weight="normal" text-anchor="start" transform="translate(798.4 498.5) rotate(-90) scale(0.9388 1)"  stroke="#1e1e1e" stroke-width="0.3">OG</text>
<text x="0" y="0" font-size="9.8" fill="#1e1e1e" font-weight="normal" text-anchor="start" transform="translate(262.4 645.5) rotate(-90) scale(0.9388 1)"  stroke="#1e1e1e" stroke-width="0.3">GD122</text>
<text x="0" y="0" font-size="9.8" fill="#1e1e1e" font-weight="normal" text-anchor="start" transform="translate(280.4 645.5) rotate(-90) scale(0.9388 1)"  stroke="#1e1e1e" stroke-width="0.3">BK</text>
<text x="0" y="0" font-size="9.8" fill="#1e1e1e" font-weight="normal" text-anchor="start" transform="translate(707.4 680.5) rotate(-90) scale(0.9388 1)"  stroke="#1e1e1e" stroke-width="0.3">GD176</text>
<text x="0" y="0" font-size="9.8" fill="#1e1e1e" font-weight="normal" text-anchor="start" transform="translate(727.4 680.5) rotate(-90) scale(0.9388 1)"  stroke="#1e1e1e" stroke-width="0.3">BK-WH</text>
<text x="0" y="0" font-size="9.8" fill="#1e1e1e" font-weight="normal" text-anchor="start" transform="translate(344.5 350.5) scale(0.9388 1)"  stroke="#1e1e1e" stroke-width="0.3">GD122</text>
<text x="0" y="0" font-size="9.8" fill="#1e1e1e" font-weight="normal" text-anchor="start" transform="translate(387 350.5) scale(0.9388 1)"  stroke="#1e1e1e" stroke-width="0.3">BK</text>
<text x="0" y="0" font-size="9.8" fill="#1e1e1e" font-weight="normal" text-anchor="start" transform="translate(344.5 369) scale(0.9388 1)"  stroke="#1e1e1e" stroke-width="0.3">GD122</text>
<text x="0" y="0" font-size="9.8" fill="#1e1e1e" font-weight="normal" text-anchor="start" transform="translate(387 369) scale(0.9388 1)"  stroke="#1e1e1e" stroke-width="0.3">BK</text>
<text x="0" y="0" font-size="9.8" fill="#1e1e1e" font-weight="normal" text-anchor="start" transform="translate(344.5 389.5) scale(0.9388 1)"  stroke="#1e1e1e" stroke-width="0.3">GD122</text>
<text x="0" y="0" font-size="9.8" fill="#1e1e1e" font-weight="normal" text-anchor="start" transform="translate(387 389.5) scale(0.9388 1)"  stroke="#1e1e1e" stroke-width="0.3">BK</text>
<text x="0" y="0" font-size="9.8" fill="#30305e" font-weight="normal" text-anchor="start" transform="translate(233 371) scale(0.9388 1)"  stroke="#30305e" stroke-width="0.18">S113</text>
<path d="M430,577 H457.5 L464.5,585.5 L457.5,594 H430 Z" stroke="#666" stroke-width="1.1" fill="none" />
<text x="0" y="0" font-size="9.8" fill="#1e1e1e" font-weight="normal" text-anchor="middle" transform="translate(443 589) scale(0.9388 1)"  stroke="#1e1e1e" stroke-width="0.3">B</text>
<line x1="464.5" y1="585.5" x2="472" y2="585.5" stroke="#888" stroke-width="1" />
<line x1="472" y1="585.5" x2="609" y2="585.5" stroke="#1818c4" stroke-width="4.6" />
<line x1="625.5" y1="585.5" x2="883" y2="585.5" stroke="#1818c4" stroke-width="4.6" />
<line x1="609" y1="585.5" x2="625.5" y2="585.5" stroke="#222" stroke-width="1.2" />
<path d="M614,581 L618,585.5 L614,590" stroke="#222" stroke-width="1.8" fill="none" />
<text x="0" y="0" font-size="9.8" fill="#1e1e1e" font-weight="normal" text-anchor="start" transform="translate(488 581) scale(0.9388 1)"  stroke="#1e1e1e" stroke-width="0.3">CAT19</text>
<text x="0" y="0" font-size="9.8" fill="#1e1e1e" font-weight="normal" text-anchor="start" transform="translate(530 581) scale(0.9388 1)"  stroke="#1e1e1e" stroke-width="0.3">BU</text>
<text x="0" y="0" font-size="9.8" fill="#1e1e1e" font-weight="normal" text-anchor="start" transform="translate(589.5 581) scale(0.9388 1)"  stroke="#1e1e1e" stroke-width="0.3">C110</text>
<text x="0" y="0" font-size="9.8" fill="#1e1e1e" font-weight="normal" text-anchor="start" transform="translate(615 581) scale(0.9388 1)"  stroke="#1e1e1e" stroke-width="0.3">-</text>
<text x="0" y="0" font-size="9.8" fill="#1e1e1e" font-weight="normal" text-anchor="start" transform="translate(624.5 581) scale(0.9388 1)"  stroke="#1e1e1e" stroke-width="0.3">1</text>
<text x="0" y="0" font-size="9.8" fill="#1e1e1e" font-weight="normal" text-anchor="start" transform="translate(759.5 581) scale(0.9388 1)"  stroke="#1e1e1e" stroke-width="0.3">CAT19</text>
<text x="0" y="0" font-size="9.8" fill="#1e1e1e" font-weight="normal" text-anchor="start" transform="translate(801 581) scale(0.9388 1)"  stroke="#1e1e1e" stroke-width="0.3">BU</text>
<text x="0" y="0" font-size="10.4" fill="#26268e" font-weight="bold" text-anchor="start" transform="translate(389.5 592) scale(0.86 1)"  stroke="#26268e" stroke-width="0.3">95-1</text>
<text x="0" y="0" font-size="10.4" fill="#b02458" font-weight="bold" text-anchor="start" transform="translate(389.5 602.5) scale(0.86 1)"  stroke="#b02458" stroke-width="0.3">95-2</text>
<text x="0" y="0" font-size="9.8" fill="#1e1e1e" font-weight="normal" text-anchor="start" transform="translate(389.5 612.5) scale(0.9388 1)"  stroke="#1e1e1e" stroke-width="0.3">TRAILER/CAMPER ADAPTER</text>
<path d="M672.5,594 H698 L707,602.5 L698,610.5 H672.5 Z" stroke="#666" stroke-width="1.1" fill="none" />
<line x1="707" y1="602.5" x2="715" y2="602.5" stroke="#888" stroke-width="1" />
<line x1="715" y1="602.5" x2="883" y2="602.5" stroke="#8e8686" stroke-width="4.6" />
<text x="0" y="0" font-size="9.8" fill="#1e1e1e" font-weight="normal" text-anchor="start" transform="translate(759.5 597.5) scale(0.9388 1)"  stroke="#1e1e1e" stroke-width="0.3">CAT03</text>
<text x="0" y="0" font-size="9.8" fill="#1e1e1e" font-weight="normal" text-anchor="start" transform="translate(801 597.5) scale(0.9388 1)"  stroke="#1e1e1e" stroke-width="0.3">GY-BN</text>
<text x="0" y="0" font-size="9.8" fill="#1e1e1e" font-weight="normal" text-anchor="start" transform="translate(582 607.5) scale(0.9388 1)"  stroke="#1e1e1e" stroke-width="0.3">REVERSING LAMPS</text>
<text x="0" y="0" font-size="10.4" fill="#26268e" font-weight="bold" text-anchor="start" transform="translate(642.5 618) scale(0.86 1)"  stroke="#26268e" stroke-width="0.3">93-1</text>
<text x="0" y="0" font-size="10.4" fill="#26268e" font-weight="bold" text-anchor="start" transform="translate(642.5 628) scale(0.86 1)"  stroke="#26268e" stroke-width="0.3">93-2</text>
<path d="M883,619 H712.5 V691" stroke="#111111" stroke-width="5" fill="none" />
<path d="M883,619 H712.5 V691" stroke="#e4e4e4" stroke-width="0.9" fill="none" />
<circle cx="712.5" cy="619" r="4.9" fill="#fff"/>
<circle cx="712.5" cy="619" r="3.9" fill="#1414b4"/>
<text x="0" y="0" font-size="9.8" fill="#1e1e1e" font-weight="normal" text-anchor="start" transform="translate(759.5 614) scale(0.9388 1)"  stroke="#1e1e1e" stroke-width="0.3">GD176</text>
<text x="0" y="0" font-size="9.8" fill="#1e1e1e" font-weight="normal" text-anchor="start" transform="translate(801 614) scale(0.9388 1)"  stroke="#1e1e1e" stroke-width="0.3">BK-WH</text>
<text x="0" y="0" font-size="9.8" fill="#30305e" font-weight="normal" text-anchor="start" transform="translate(720.5 635.5) scale(0.9388 1)"  stroke="#30305e" stroke-width="0.18">S400</text>
<text x="0" y="0" font-size="9.8" fill="#30305e" font-weight="normal" text-anchor="start" transform="translate(722 699) scale(0.9388 1)"  stroke="#30305e" stroke-width="0.18">G400</text>
<text x="0" y="0" font-size="10.4" fill="#26268e" font-weight="bold" text-anchor="start" transform="translate(722 709.5) scale(0.86 1)"  stroke="#26268e" stroke-width="0.3">10-10</text>
<line x1="266" y1="689" x2="266" y2="697" stroke="#555" stroke-width="1" />
<line x1="260" y1="697" x2="272" y2="697" stroke="#333" stroke-width="1.2" />
<line x1="262" y1="700" x2="270" y2="700" stroke="#777" stroke-width="1" />
<line x1="264.5" y1="703" x2="267.5" y2="703" stroke="#999" stroke-width="1" />
<line x1="712.5" y1="692" x2="712.5" y2="700" stroke="#555" stroke-width="1" />
<line x1="706.5" y1="700" x2="718.5" y2="700" stroke="#333" stroke-width="1.2" />
<line x1="708.5" y1="703" x2="716.5" y2="703" stroke="#777" stroke-width="1" />
<line x1="711.0" y1="706" x2="714.0" y2="706" stroke="#999" stroke-width="1" />
<text x="0" y="0" font-size="9.8" fill="#30305e" font-weight="normal" text-anchor="start" transform="translate(283 696.6) scale(0.9388 1)"  stroke="#30305e" stroke-width="0.18">G104</text>
<text x="0" y="0" font-size="10.4" fill="#26268e" font-weight="bold" text-anchor="start" transform="translate(283 707.8) scale(0.86 1)"  stroke="#26268e" stroke-width="0.3">10-3</text>
<rect x="879.5" y="514.2" width="7.5" height="8" fill="none" stroke="#999" stroke-width="1"/>
<line x1="878.5" y1="514.7" x2="878.5" y2="521.7" stroke="#222" stroke-width="1.4" />
<rect x="879.5" y="530.3" width="7.5" height="8" fill="none" stroke="#999" stroke-width="1"/>
<line x1="878.5" y1="530.8" x2="878.5" y2="537.8" stroke="#222" stroke-width="1.4" />
<rect x="879.5" y="547" width="7.5" height="8" fill="none" stroke="#999" stroke-width="1"/>
<line x1="878.5" y1="547.5" x2="878.5" y2="554.5" stroke="#222" stroke-width="1.4" />
<rect x="879.5" y="563.8" width="7.5" height="8" fill="none" stroke="#999" stroke-width="1"/>
<line x1="878.5" y1="564.3" x2="878.5" y2="571.3" stroke="#222" stroke-width="1.4" />
<rect x="879.5" y="581.5" width="7.5" height="8" fill="none" stroke="#999" stroke-width="1"/>
<line x1="878.5" y1="582.0" x2="878.5" y2="589.0" stroke="#222" stroke-width="1.4" />
<rect x="879.5" y="598.5" width="7.5" height="8" fill="none" stroke="#999" stroke-width="1"/>
<line x1="878.5" y1="599.0" x2="878.5" y2="606.0" stroke="#222" stroke-width="1.4" />
<rect x="879.5" y="615" width="7.5" height="8" fill="none" stroke="#999" stroke-width="1"/>
<line x1="878.5" y1="615.5" x2="878.5" y2="622.5" stroke="#222" stroke-width="1.4" />
<path d="M892.4,504.7 Q903,534 893,563.2 Q903,592 892.4,629.5" stroke="#333" stroke-width="1.2" fill="none" />
<text x="0" y="0" font-size="9.8" fill="#1e1e1e" font-weight="normal" text-anchor="start" transform="translate(900 565) scale(0.9388 1)"  stroke="#1e1e1e" stroke-width="0.3">Ends in harness</text>
<text x="0" y="0" font-size="9.8" fill="#1e1e1e" font-weight="normal" text-anchor="start" transform="translate(909 577) scale(0.9388 1)"  stroke="#1e1e1e" stroke-width="0.3">(Blunt cut)</text>
<text x="38.3" y="676" font-size="14.4" fill="#b8b8b8" font-weight="normal" text-anchor="start" letter-spacing="0.4">www.nhms.us</text>
</svg>
</body></html>
